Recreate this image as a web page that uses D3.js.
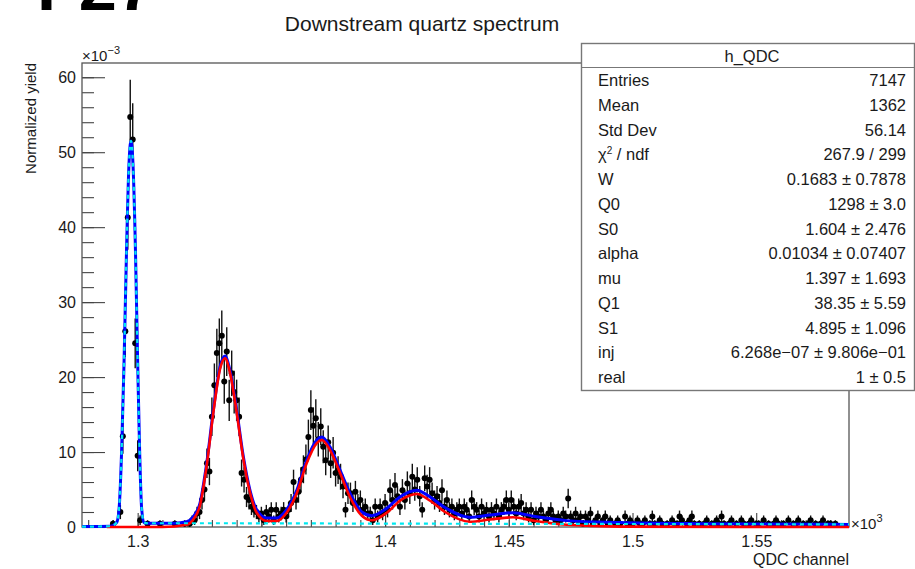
<!DOCTYPE html>
<html>
<head>
<meta charset="utf-8">
<script src="https://cdn.jsdelivr.net/npm/d3@7"></script>
<style>
  body { margin: 0; background: #fff; }
  svg { font-family: "Liberation Sans", Arial, sans-serif; }
  .axis text { font-size: 16px; fill: #1a1a1a; }
  .axis line { stroke: #444; stroke-width: 1.1; }
</style>
</head>
<body>
<div id="chart"></div>
<script>
"use strict";

// histogram bins: one QDC channel each, centres in units of 10^3
var binFirst = 1.278;
var binWidth = 0.001;

// normalized yield per bin (x10^-3), channels 1278 .. 1587
var yields = [
  0, 0, 0, 0, 0, 0, 0, 0, 0, 0,
  0, 0, 0.45, 0, 0, 2.0, 12.1, 26.1, 41.3, 54.7,
  51.7, 24.5, 9.5, 0.9, 0, 0, 0.45, 0, 0, 0,
  0, 0.45, 0, 0, 0, 0, 0, 0.45, 0, 0,
  0, 0.45, 0, 0.45, 0.9, 0.9, 1.8, 2.0, 3.6, 5.0,
  8.5, 7.4, 14.7, 18.9, 23.2, 24.5, 25.5, 19.4, 23.4, 16.9,
  20.5, 18.0, 16.9, 14.7, 7.2, 6.3, 4.0, 3.6, 2.7, 2.3,
  2.0, 1.4, 1.8, 0.9, 2.0, 1.4, 2.3, 0.9, 2.3, 1.4,
  1.8, 2.3, 1.4, 2.3, 3.2, 6.0, 3.6, 4.7, 6.3, 7.7,
  9.0, 12.0, 15.6, 13.5, 14.5, 11.7, 13.4, 10.7, 8.9, 11.3,
  8.5, 9.9, 7.2, 7.6, 6.7, 5.4, 2.3, 4.5, 4.5, 3.2,
  4.7, 3.2, 3.6, 2.3, 2.7, 1.8, 1.8, 0.9, 2.7, 1.4,
  2.7, 1.8, 3.2, 2.3, 4.9, 3.6, 5.6, 4.1, 2.7, 4.9,
  3.6, 5.8, 4.5, 6.7, 5.0, 6.3, 4.1, 2.3, 6.5, 5.4,
  6.3, 4.5, 3.6, 4.1, 3.2, 4.9, 2.7, 3.6, 2.3, 2.7,
  1.8, 2.3, 2.7, 1.8, 2.7, 2.3, 1.4, 3.6, 2.7, 2.3,
  1.4, 2.7, 1.8, 2.3, 1.4, 2.3, 1.8, 2.7, 1.4, 2.3,
  2.7, 3.6, 2.3, 3.6, 2.7, 1.8, 2.7, 3.2, 1.8, 2.3,
  1.4, 2.3, 0.9, 1.8, 1.4, 2.3, 1.4, 0.9, 1.8, 2.3,
  1.4, 0.9, 1.4, 0.9, 1.8, 1.4, 3.8, 1.4, 0.9, 1.8,
  0.9, 1.4, 0.45, 1.4, 0.9, 1.8, 0.45, 0.9, 1.4, 0.45,
  0.9, 1.4, 0.45, 0.9, 0, 0.45, 0.9, 0.45, 0, 1.4,
  0.45, 0.9, 0.45, 0, 0.9, 0.45, 0.45, 0.9, 0, 0.45,
  1.4, 0.45, 0, 0.9, 0.45, 0, 0.45, 0, 0.9, 0.45,
  0.45, 1.4, 0.9, 0, 0.45, 0.9, 1.4, 0.45, 0, 0.45,
  0, 0.45, 0.9, 0, 0.45, 0.45, 0.9, 0.45, 1.4, 0.45,
  0, 0.45, 0.9, 0, 0.45, 0, 0.9, 0.45, 0, 0.45,
  0.9, 0, 0.45, 0.45, 0, 0.9, 0, 0.45, 0, 0.45,
  0.9, 0.45, 0, 0.45, 0, 0.9, 0, 0.45, 0.45, 0.9,
  0, 0.45, 0, 0.45, 0.9, 0, 0.45, 0, 0.45, 0.9,
  0, 0.45, 0.45, 0, 0.45, 0, 0, 0, 0, 0
];
// yield of a single count, used for the poisson error bars
var countUnit = 0.45;

// total fit (blue)
var totalFitX = [1.2775, 1.2890, 1.2915, 1.2925, 1.2935, 1.2945, 1.2955, 1.2965, 1.2973, 1.2981,
  1.2991, 1.3000, 1.3008, 1.3016, 1.3026, 1.3040, 1.3150, 1.3198, 1.3225, 1.3252,
  1.3279, 1.3306, 1.3333, 1.3353, 1.3373, 1.3400, 1.3427, 1.3454, 1.3481, 1.3522,
  1.3562, 1.3602, 1.3643, 1.3683, 1.3724, 1.3744, 1.3777, 1.3818, 1.3858, 1.3906,
  1.3946, 1.4007, 1.4060, 1.4128, 1.4182, 1.4242, 1.4343, 1.4424, 1.4517, 1.4606,
  1.4734, 1.4950, 1.5273, 1.5875];
var totalFitY = [0.05, 0.1, 0.6, 2.5, 10, 22, 37, 48.5, 51.5, 48.5,
  37, 22, 10, 2.5, 0.6, 0.5, 0.5, 0.7, 1.4, 3.2,
  8.5, 15.6, 21.4, 22.8, 20.9, 15.6, 9.4, 4.9, 2.3, 1.2,
  1.2, 2.3, 4.9, 8.9, 11.6, 12.0, 10.7, 7.6, 4.5, 2.0,
  1.5, 2.5, 4.0, 4.9, 4.0, 2.6, 1.3, 1.6, 1.9, 1.4,
  0.85, 0.6, 0.45, 0.35];

// photo-electron part (red)
var signalFitX = [1.2875, 1.3100, 1.3198, 1.3225, 1.3252, 1.3279, 1.3306, 1.3333, 1.3353, 1.3373,
  1.3400, 1.3427, 1.3454, 1.3481, 1.3522, 1.3562, 1.3602, 1.3643, 1.3683, 1.3724,
  1.3744, 1.3777, 1.3818, 1.3858, 1.3906, 1.3946, 1.4007, 1.4060, 1.4128, 1.4182,
  1.4242, 1.4343, 1.4424, 1.4517, 1.4606, 1.4734, 1.4950, 1.5875];
var signalFitY = [0, 0, 0.3, 1.0, 2.9, 8.2, 15.3, 21.1, 22.5, 20.6,
  15.3, 9.1, 4.6, 1.9, 0.8, 0.8, 1.9, 4.5, 8.5, 11.2,
  11.6, 10.3, 7.2, 4.0, 1.5, 0.9, 1.9, 3.5, 4.4, 3.5,
  2.0, 0.7, 1.0, 1.3, 0.8, 0.3, 0.05, 0];

// pedestal part (cyan dashed)
var pedestalFitX = [1.2775, 1.2890, 1.2915, 1.2925, 1.2935, 1.2945, 1.2955, 1.2965, 1.2973, 1.2981,
  1.2991, 1.3000, 1.3008, 1.3016, 1.3026, 1.3040, 1.3300, 1.4000, 1.5000, 1.5875];
var pedestalFitY = [0.05, 0.1, 0.6, 2.5, 10, 22, 37, 48.5, 51.5, 48.5,
  37, 22, 10, 2.5, 0.6, 0.5, 0.5, 0.45, 0.4, 0.35];

var xTicks = [1.3, 1.35, 1.4, 1.45, 1.5, 1.55];
var xTickLabels = ["1.3", "1.35", "1.4", "1.45", "1.5", "1.55"];
var yTicks = [0, 10, 20, 30, 40, 50, 60];

var statNames = ["Entries", "Mean", "Std Dev", "chi2", "W", "Q0", "S0", "alpha", "mu", "Q1", "S1", "inj", "real"];
var statValues = ["7147", "1362", "56.14", "267.9 / 299", "0.1683 \u00b1 0.7878", "1298 \u00b1 3.0",
  "1.604 \u00b1 2.476", "0.01034 \u00b1 0.07407", "1.397 \u00b1 1.693", "38.35 \u00b1 5.59",
  "4.895 \u00b1 1.096", "6.268e\u221207 \u00b1 9.806e\u221201", "1 \u00b1 0.5"];

function drawChart(w, h) {
  var left = 82, right = 849, top = 63, bottom = 527;

  var xScale = d3.scaleLinear().domain([1.2775, 1.5875]).range([left, right]);
  var yScale = d3.scaleLinear().domain([0, 61.9]).range([bottom, top]);

  var svg = d3.select("#chart").append("svg")
    .attr("width", w)
    .attr("height", h);

  svg.append("defs").append("clipPath").attr("id", "plotClip")
    .append("rect")
    .attr("x", left).attr("y", top)
    .attr("width", right - left).attr("height", bottom - top + 3);

  // big panel label, cut off by the top of the picture
  svg.append("text")
    .attr("x", 37).attr("y", 10)
    .attr("textLength", 118)
    .attr("lengthAdjust", "spacingAndGlyphs")
    .style("font-size", "62px")
    .style("font-weight", "bold")
    .text("F27");

  // title
  svg.append("text")
    .attr("x", 422).attr("y", 31)
    .attr("text-anchor", "middle")
    .style("font-size", "21px")
    .style("fill", "#1a1a1a")
    .text("Downstream quartz spectrum");

  // minor ticks
  svg.append("g")
    .attr("class", "axis")
    .attr("transform", "translate(" + left + ",0)")
    .call(d3.axisLeft(yScale).tickValues(d3.range(0, 62, 2)).tickSize(-12).tickFormat(""))
    .select(".domain").remove();
  svg.append("g")
    .attr("class", "axis")
    .attr("transform", "translate(0," + bottom + ")")
    .call(d3.axisBottom(xScale).tickValues(d3.range(1.28, 1.585, 0.01)).tickSize(-7).tickFormat(""))
    .select(".domain").remove();

  // major ticks
  svg.append("g")
    .attr("class", "axis")
    .attr("transform", "translate(" + left + ",0)")
    .call(d3.axisLeft(yScale).tickValues(yTicks).tickSize(-23).tickPadding(6))
    .select(".domain").remove();
  svg.append("g")
    .attr("class", "axis")
    .attr("transform", "translate(0," + bottom + ")")
    .call(d3.axisBottom(xScale).tickValues(xTicks).tickSize(-14).tickPadding(9)
      .tickFormat(function (d, i) { return xTickLabels[i]; }))
    .select(".domain").remove();

  // frame
  svg.append("rect")
    .attr("x", left).attr("y", top)
    .attr("width", right - left).attr("height", bottom - top)
    .attr("fill", "none")
    .attr("stroke", "#555")
    .attr("stroke-width", 1.3);

  // axis titles and exponents
  svg.append("text")
    .attr("transform", "translate(36," + top + ") rotate(-90)")
    .attr("text-anchor", "end")
    .style("font-size", "15px")
    .style("fill", "#1a1a1a")
    .text("Normalized yield");

  var ex = svg.append("text")
    .attr("x", left).attr("y", 61)
    .style("font-size", "15px").style("fill", "#1a1a1a");
  ex.append("tspan").text("\u00d710");
  ex.append("tspan").attr("dy", -7).style("font-size", "11px").text("\u22123");

  var ex2 = svg.append("text")
    .attr("x", right + 2).attr("y", 529)
    .style("font-size", "15px").style("fill", "#1a1a1a");
  ex2.append("tspan").text("\u00d710");
  ex2.append("tspan").attr("dy", -7).style("font-size", "11px").text("3");

  svg.append("text")
    .attr("x", right).attr("y", 565)
    .attr("text-anchor", "end")
    .style("font-size", "16px")
    .style("fill", "#1a1a1a")
    .text("QDC channel");

  // data points with error bars
  var points = yields.map(function (v, i) {
    return { x: binFirst + i * binWidth, y: v, err: Math.sqrt(v * countUnit) };
  }).filter(function (d) { return d.y > 0; });

  var plot = svg.append("g").attr("clip-path", "url(#plotClip)");

  plot.selectAll(".errbar")
    .data(points)
    .enter().append("line")
    .attr("class", "errbar")
    .attr("x1", function (d) { return xScale(d.x); })
    .attr("x2", function (d) { return xScale(d.x); })
    .attr("y1", function (d) { return yScale(d.y + d.err); })
    .attr("y2", function (d) { return yScale(Math.max(0, d.y - d.err)); })
    .attr("stroke", "#111")
    .attr("stroke-width", 1.4);

  plot.selectAll(".dot")
    .data(points)
    .enter().append("circle")
    .attr("class", "dot")
    .attr("cx", function (d) { return xScale(d.x); })
    .attr("cy", function (d) { return yScale(d.y); })
    .attr("r", 3)
    .attr("fill", "#000");

  // fit curves
  var line = d3.line()
    .x(function (d) { return xScale(d[0]); })
    .y(function (d) { return yScale(d[1]); })
    .curve(d3.curveMonotoneX);

  plot.append("path")
    .datum(d3.zip(totalFitX, totalFitY))
    .attr("d", line)
    .attr("fill", "none")
    .attr("stroke", "#0000ff")
    .attr("stroke-width", 3);

  plot.append("path")
    .datum(d3.zip(signalFitX, signalFitY))
    .attr("d", line)
    .attr("fill", "none")
    .attr("stroke", "#ff0000")
    .attr("stroke-width", 2.6);

  plot.append("path")
    .datum(d3.zip(pedestalFitX, pedestalFitY))
    .attr("d", line)
    .attr("fill", "none")
    .attr("stroke", "#00e8f0")
    .attr("stroke-width", 2.2)
    .attr("stroke-dasharray", "4,4");

  // stats box
  var box = svg.append("g");
  box.append("rect")
    .attr("x", 581.5).attr("y", 43.5)
    .attr("width", 333).attr("height", 347)
    .attr("fill", "#fff")
    .attr("stroke", "#777")
    .attr("stroke-width", 1.4);
  box.append("line")
    .attr("x1", 581.5).attr("x2", 915)
    .attr("y1", 67.5).attr("y2", 67.5)
    .attr("stroke", "#777")
    .attr("stroke-width", 1.2);
  box.append("text")
    .attr("x", 752).attr("y", 62)
    .attr("text-anchor", "middle")
    .style("font-size", "16.5px").style("fill", "#1a1a1a")
    .text("h_QDC");

  statNames.forEach(function (name, i) {
    var yy = 86 + i * 24.75;
    var t = box.append("text")
      .attr("x", 598).attr("y", yy)
      .style("font-size", "16.5px").style("fill", "#1a1a1a");
    if (name === "chi2") {
      t.append("tspan").text("\u03c7");
      t.append("tspan").attr("dy", -6).style("font-size", "10px").text("2");
      t.append("tspan").attr("dy", 6).text(" / ndf");
    } else {
      t.text(name);
    }
    box.append("text")
      .attr("x", 906).attr("y", yy)
      .attr("text-anchor", "end")
      .style("font-size", "16.5px").style("fill", "#1a1a1a")
      .text(statValues[i]);
  });
}

function init() {
  drawChart(915, 569);
}

window.onload = init;
</script>
</body>
</html>
